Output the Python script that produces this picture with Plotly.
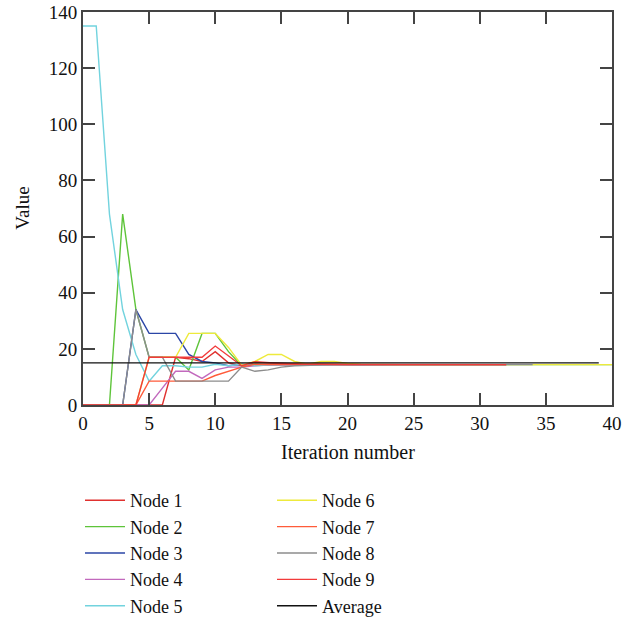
import plotly.graph_objects as go

# Iteration-indexed values for each node (index = iteration number)
node1 = [0, 0, 0, 0, 0, 0, 0, 17, 16.5, 15.5, 19, 15, 14, 15.2, 15, 14.8, 14.6, 14.5, 14.5, 14.4, 14.4, 14.4, 14.4, 14.4, 14.4, 14.4, 14.4, 14.4, 14.4, 14.4, 14.4, 14.4, 14.4]
node2 = [0, 0, 0, 68, 34, 17, 17, 17, 12.5, 25.5, 25.5, 19, 14, 14.5, 14.3, 14.4, 14.5, 14.4, 14.4, 14.4, 14.4, 14.4, 14.4, 14.4, 14.4, 14.4, 14.4, 14.4, 14.4, 14.4, 14.4, 14.4, 14.4, 14.4, 14.4, 14.4, 14.4, 14.4, 14.4, 14.4, 14.4]
node3 = [0, 0, 0, 0, 34, 25.5, 25.5, 25.5, 18, 15.5, 15, 14, 14.5, 14.2, 14.4, 14.5, 14.4, 14.4, 14.4, 14.4, 14.4, 14.4, 14.4, 14.4, 14.4, 14.4, 14.4, 14.4, 14.4, 14.4, 14.4, 14.4, 14.4]
node4 = [0, 0, 0, 0, 0, 0, 6, 12, 12, 9.5, 12.5, 13.5, 13.5, 14, 14.2, 14.3, 14.4, 14.4, 14.4, 14.4, 14.4, 14.4, 14.4, 14.4, 14.4, 14.4, 14.4, 14.4, 14.4, 14.4, 14.4, 14.4, 14.4]
node5 = [135, 135, 68, 34, 18, 8.5, 14, 14, 13.5, 13.5, 14.5, 14, 14.5, 14, 14.3, 14.4, 14.4, 14.4, 14.4, 14.4, 14.4, 14.4, 14.4, 14.4, 14.4, 14.4, 14.4, 14.4, 14.4, 14.4, 14.4, 14.4, 14.4]
node6 = [0, 0, 0, 0, 0, 17, 17, 17, 25.5, 25.5, 25.5, 20.5, 14.2, 15.5, 18, 18, 15.5, 14.5, 15.5, 15.5, 14.8, 14.5, 14.4, 14.4, 14.4, 14.4, 14.4, 14.4, 14.4, 14.4, 14.4, 14.4, 14.4, 14.4, 14.4, 14.4, 14.4, 14.4, 14.4, 14.4, 14.4]
node7 = [0, 0, 0, 0, 0, 8.5, 8.5, 8.5, 8.5, 8.5, 10.5, 12, 13.5, 14.5, 14.5, 14.4, 14.4, 14.3, 14.4, 14.4, 14.4, 14.4, 14.4, 14.4, 14.4, 14.4, 14.4, 14.4, 14.4, 14.4, 14.4, 14.4, 14.4]
node8 = [0, 0, 0, 0, 34, 17, 17, 8.5, 8.5, 8.5, 8.5, 8.5, 13.5, 12, 12.5, 13.5, 14, 14.2, 14.3, 14.4, 14.4, 14.4, 14.4, 14.4, 14.4, 14.4, 14.4, 14.4, 14.4, 14.4, 14.4, 14.4, 14.4, 14.4, 14.4]
node9 = [0, 0, 0, 0, 0, 17, 17, 17, 17, 17, 21, 17.5, 14, 15.4, 15, 14.8, 14.6, 14.5, 14.5, 14.4, 14.4, 14.4, 14.4, 14.4, 14.4, 14.4, 14.4, 14.4, 14.4, 14.4, 14.4, 14.4, 14.4]
average = [15.0, 15.0]
average_iters = [0, 39]

names = ["Node 1", "Node 2", "Node 3", "Node 4", "Node 5", "Node 6", "Node 7", "Node 8", "Node 9"]
series = [node1, node2, node3, node4, node5, node6, node7, node8, node9]
colors = ["#e0312f", "#5ec43a", "#2b46a6", "#c269bd", "#72d3de", "#eeea3c", "#ff5b3a", "#8c8c8c", "#f23b3b"]

x_ticks = [0, 5, 10, 15, 20, 25, 30, 35, 40]
y_ticks = [0, 20, 40, 60, 80, 100, 120, 140]

FONT = "Liberation Serif"

fig = go.Figure()
for i, (nm, vals, col) in enumerate(zip(names, series, colors)):
    fig.add_trace(go.Scatter(
        x=list(range(len(vals))), y=vals, mode="lines", name=nm,
        line=dict(color=col, width=1.4),
        legend="legend" if i < 5 else "legend2",
    ))
fig.add_trace(go.Scatter(
    x=average_iters, y=average, mode="lines", name="Average",
    line=dict(color="#111111", width=1.4), legend="legend2",
))

axis_common = dict(
    showline=True, linecolor="#444444", linewidth=2, mirror="ticks",
    ticks="inside", ticklen=12, tickwidth=2, tickcolor="#444444",
    showgrid=False, zeroline=False,
    tickfont=dict(family=FONT, size=19, color="#111111"),
)

fig.update_layout(
    width=631, height=620,
    margin=dict(l=83, r=19, t=12, b=215, autoexpand=False),
    paper_bgcolor="white", plot_bgcolor="white",
    font=dict(family=FONT, size=19, color="#111111"),
    xaxis=dict(range=[0, 40], tickvals=x_ticks, **axis_common),
    yaxis=dict(range=[0, 140], tickvals=y_ticks, **axis_common),
    legend=dict(xref="container", yref="container", x=80/631, y=1 - 482/620, xanchor="left", yanchor="top",
                font=dict(family=FONT, size=18), tracegroupgap=0, itemwidth=40, bgcolor="rgba(0,0,0,0)"),
    legend2=dict(xref="container", yref="container", x=272/631, y=1 - 482/620, xanchor="left", yanchor="top",
                 font=dict(family=FONT, size=18), tracegroupgap=0, itemwidth=40, bgcolor="rgba(0,0,0,0)"),
    showlegend=True,
    annotations=[
        dict(text="Iteration number", xref="paper", yref="paper", x=0.5, y=-0.12,
             xanchor="center", yanchor="middle", showarrow=False, font=dict(family=FONT, size=20)),
        dict(text="Value", xref="paper", yref="paper", x=-0.115, y=0.5, textangle=-90,
             xanchor="center", yanchor="middle", showarrow=False, font=dict(family=FONT, size=19)),
    ],
)

fig.write_html("out.html")
